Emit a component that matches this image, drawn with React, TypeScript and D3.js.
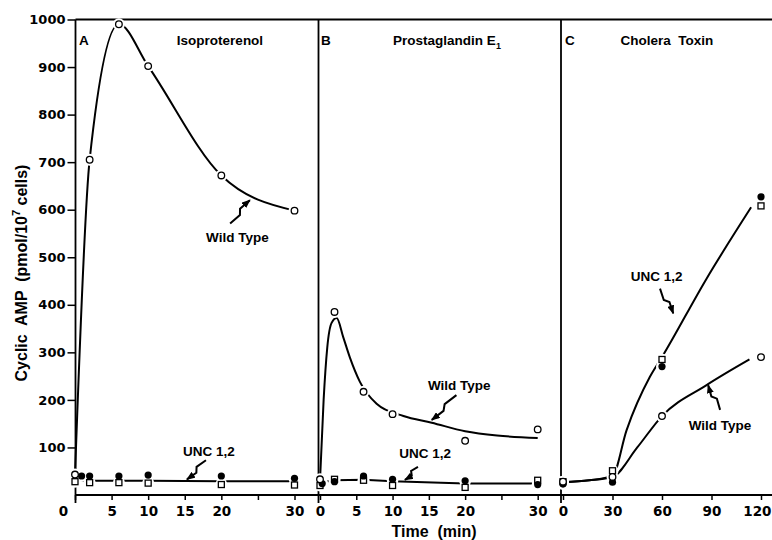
import React, { useEffect, useRef } from 'react'
import * as d3 from 'd3'

type Pt = [number, number]

// Panel A: isoproterenol (time min, cAMP pmol/10^7 cells)
const isoWildType: Pt[] = [[0, 43], [2, 705], [6, 990], [10, 902], [20, 672], [30, 598]]
const isoUncFilled: Pt[] = [[0.9, 40], [2, 40], [6, 40], [10, 42], [20, 40], [30, 35]]
const isoUncOpen: Pt[] = [[0, 28], [2, 26], [6, 26], [10, 25], [20, 22], [30, 21]]
const isoUncLine: Pt[] = [[0, 30], [2, 30], [6, 30], [10, 30], [20, 29], [30, 29]]

// Panel B: prostaglandin E1
const pgeWildType: Pt[] = [[0, 33], [2, 385], [6, 217], [10, 170], [20, 114], [30, 138]]
const pgeWildFit: Pt[] = [[0, 30], [0.5, 200], [1, 310], [1.6, 362], [2.3, 372], [3.2, 332], [4.1, 290], [5.5, 238], [7.8, 192], [11.5, 166], [15.4, 152], [20, 134], [24.4, 125], [30, 120]]
const pgeUncFilled: Pt[] = [[0.3, 24], [2, 28], [6, 40], [10, 33], [20, 30], [30, 22]]
const pgeUncOpen: Pt[] = [[0, 20], [2, 33], [6, 31], [10, 20], [20, 16], [30, 31]]
const pgeUncLine: Pt[] = [[0, 26], [2, 31], [6, 32], [10, 29], [20, 24], [30, 24]]

// Panel C: cholera toxin
const choleraWildType: Pt[] = [[0, 28], [30, 38], [60, 166], [120, 290]]
const choleraWildFit: Pt[] = [[0, 27], [16, 31], [30, 38], [45, 100], [60, 166], [87, 231], [113, 285]]
const choleraUncFilled: Pt[] = [[0, 23], [30, 27], [60, 270], [120, 627]]
const choleraUncOpen: Pt[] = [[0, 28], [30, 51], [60, 285], [120, 608]]
const choleraUncFit: Pt[] = [[0, 27], [16, 31], [30, 40], [38.5, 136], [52.6, 248], [60, 290], [87, 455], [114, 605]]

const yTicks = [100, 200, 300, 400, 500, 600, 700, 800, 900, 1000]
const ticksAB = [0, 5, 10, 15, 20, 25, 30]
const labelsAB = ['0', '5', '10', '15', '20', '', '30']
const ticksC = [0, 30, 60, 90, 120]
const labelsC = ['0', '30', '60', '90', '120']

const FONT = '"Liberation Sans", Arial, sans-serif'
const DIGITS = '"DejaVu Sans", sans-serif'

export default function App() {
  const ref = useRef<SVGSVGElement>(null)

  useEffect(() => {
    const svg = d3.select(ref.current)
    svg.selectAll('*').remove()

    const top = 19.5, bottom = 495, left = 75.5
    const y = d3.scaleLinear().domain([0, 1000]).range([bottom, top])

    svg.append('defs').append('marker')
      .attr('id', 'arrow')
      .attr('markerUnits', 'userSpaceOnUse')
      .attr('markerWidth', 9).attr('markerHeight', 7)
      .attr('refX', 8).attr('refY', 3.5)
      .attr('orient', 'auto')
      .append('path').attr('d', 'M0,0 L9,3.5 L0,7 Z').attr('fill', '#000')

    const panels = [
      {
        x: d3.scaleLinear().domain([0, 30]).range([75, 294.5]),
        ticks: ticksAB, labels: labelsAB,
        curves: [{ d: isoWildType, c: d3.curveMonotoneX }, { d: isoUncLine, c: d3.curveLinear }],
        open: isoWildType, filled: isoUncFilled, squares: isoUncOpen,
        notes: [
          { text: 'Wild Type', at: [22.2, 542], from: [21.2, 571], to: [23.9, 620] },
          { text: 'UNC 1,2', at: [18.3, 91], from: [17.9, 73], to: [15.3, 33] },
        ],
      },
      {
        x: d3.scaleLinear().domain([0, 30]).range([320, 537.7]),
        ticks: ticksAB, labels: labelsAB,
        curves: [{ d: pgeWildFit, c: d3.curveMonotoneX }, { d: pgeUncLine, c: d3.curveLinear }],
        open: pgeWildType, filled: pgeUncFilled, squares: pgeUncOpen,
        notes: [
          { text: 'Wild Type', at: [19.2, 231], from: [18.8, 210], to: [15.4, 158] },
          { text: 'UNC 1,2', at: [14.5, 88], from: [13.5, 59], to: [11.7, 32] },
        ],
      },
      {
        x: d3.scaleLinear().domain([0, 120]).range([563, 761]),
        ticks: ticksC, labels: labelsC,
        curves: [{ d: choleraUncFit, c: d3.curveMonotoneX }, { d: choleraWildFit, c: d3.curveMonotoneX }],
        open: choleraWildType, filled: choleraUncFilled, squares: choleraUncOpen,
        notes: [
          { text: 'UNC 1,2', at: [56.8, 459], from: [58.8, 434], to: [66.8, 382] },
          { text: 'Wild Type', at: [95.2, 147], from: [95.2, 179], to: [88, 231] },
        ],
      },
    ]

    // frame
    const frame = svg.append('g').attr('stroke', '#000').attr('stroke-width', 1.8)
    frame.append('line').attr('x1', left).attr('x2', 772).attr('y1', top).attr('y2', top)
    frame.append('line').attr('x1', left).attr('x2', 772).attr('y1', bottom).attr('y2', bottom)
    ;[left, 318.5, 561].forEach(xv => {
      frame.append('line').attr('x1', xv).attr('x2', xv).attr('y1', top).attr('y2', bottom + 8)
    })

    // y axis
    const ya = svg.append('g').attr('transform', `translate(${left},0)`)
      .call(d3.axisLeft(y).tickValues(yTicks).tickSize(8).tickPadding(2).tickFormat(d3.format('d')))
    ya.select('.domain').remove()
    ya.selectAll('line').attr('stroke-width', 1.5)
    ya.selectAll('text').attr('font-family', DIGITS).attr('font-weight', 'bold').attr('font-size', 13)

    const line = (x: d3.ScaleLinear<number, number>, c: d3.CurveFactory) =>
      d3.line<Pt>().x(d => x(d[0])).y(d => y(d[1])).curve(c)

    panels.forEach((p, i) => {
      const x = p.x
      const xa = svg.append('g').attr('transform', `translate(0,${bottom})`)
        .call(d3.axisBottom(x).tickValues(p.ticks).tickSize(5).tickPadding(6)
          .tickFormat((d, k) => p.labels[k]))
      xa.select('.domain').remove()
      xa.selectAll('line').attr('stroke-width', 1.5)
      xa.selectAll('text').attr('font-family', DIGITS).attr('font-weight', 'bold').attr('font-size', 13.5)
      if (i === 0) xa.selectAll('text').filter((d, k) => k === 0).attr('dx', -12)
      // last label of C sits against the right edge
      if (i === 2) xa.selectAll('text').filter((d, k) => k === p.ticks.length - 1)
        .attr('text-anchor', 'end').attr('dx', 10)

      const g = svg.append('g')
      p.curves.forEach(cv => {
        g.append('path').attr('d', line(x, cv.c)(cv.d))
          .attr('fill', 'none').attr('stroke', '#000').attr('stroke-width', 2)
      })

      // white halos give the broken-line look around each point
      const all = [...p.open, ...p.filled, ...p.squares]
      g.selectAll('.halo').data(all).enter().append('circle')
        .attr('cx', d => x(d[0])).attr('cy', d => y(d[1])).attr('r', 6).attr('fill', '#fff')

      g.selectAll('.sq').data(p.squares).enter().append('rect')
        .attr('x', d => x(d[0]) - 3).attr('y', d => y(d[1]) - 3)
        .attr('width', 6).attr('height', 6)
        .attr('fill', '#fff').attr('stroke', '#000').attr('stroke-width', 1.3)
      g.selectAll('.fc').data(p.filled).enter().append('circle')
        .attr('cx', d => x(d[0])).attr('cy', d => y(d[1])).attr('r', 3.6).attr('fill', '#000')
      g.selectAll('.oc').data(p.open).enter().append('circle')
        .attr('cx', d => x(d[0])).attr('cy', d => y(d[1])).attr('r', 3.3)
        .attr('fill', '#fff').attr('stroke', '#000').attr('stroke-width', 1.3)

      // annotations with little broken arrows
      p.notes.forEach(n => {
        g.append('text').attr('x', x(n.at[0])).attr('y', y(n.at[1]))
          .attr('text-anchor', 'middle').attr('dominant-baseline', 'central')
          .attr('font-family', FONT).attr('font-weight', 'bold').attr('font-size', 13.5)
          .text(n.text)
        const x0 = x(n.from[0]), y0 = y(n.from[1]), x1 = x(n.to[0]), y1 = y(n.to[1])
        const dx = x1 - x0, dy = y1 - y0, len = Math.hypot(dx, dy)
        const nx = -dy / len * 2, ny = dx / len * 2
        const pa = [x0 + dx * 0.42 + nx, y0 + dy * 0.42 + ny]
        const pb = [x0 + dx * 0.58 - nx, y0 + dy * 0.58 - ny]
        g.append('path')
          .attr('d', `M${x0},${y0} L${pa[0]},${pa[1]} L${pb[0]},${pb[1]} L${x1},${y1}`)
          .attr('fill', 'none').attr('stroke', '#000').attr('stroke-width', 2)
          .attr('marker-end', 'url(#arrow)')
      })
    })

    // panel titles
    const title = (xv: number, txt: string, anchor = 'start') =>
      svg.append('text').attr('x', xv).attr('y', 45).attr('text-anchor', anchor)
        .attr('font-family', FONT).attr('font-weight', 'bold').attr('font-size', 13.5).text(txt)
    title(79, 'A')
    title(220, 'Isoproterenol', 'middle')
    title(321, 'B')
    const pt = title(447, 'Prostaglandin E', 'middle')
    pt.append('tspan').attr('font-size', 9).attr('dy', 4).text('1')
    title(565, 'C')
    title(667, 'Cholera  Toxin', 'middle').style('white-space', 'pre')

    // axis titles
    const yl = svg.append('text').attr('transform', 'translate(27,273) rotate(-90)')
      .attr('text-anchor', 'middle').attr('font-family', FONT).attr('font-weight', 'bold')
      .attr('font-size', 16).style('white-space', 'pre')
    yl.append('tspan').text('Cyclic  AMP  (pmol/10')
    yl.append('tspan').attr('font-size', 11).attr('dy', -7).text('7')
    yl.append('tspan').attr('dy', 7).text(' cells)')

    svg.append('text').attr('x', 434).attr('y', 537).attr('text-anchor', 'middle')
      .attr('font-family', FONT).attr('font-weight', 'bold').attr('font-size', 16)
      .style('white-space', 'pre').text('Time  (min)')
  }, [])

  return (
    <svg ref={ref} width={772} height={540}
      style={{ position: 'absolute', left: 0, top: 0, background: '#fff' }} />
  )
}
